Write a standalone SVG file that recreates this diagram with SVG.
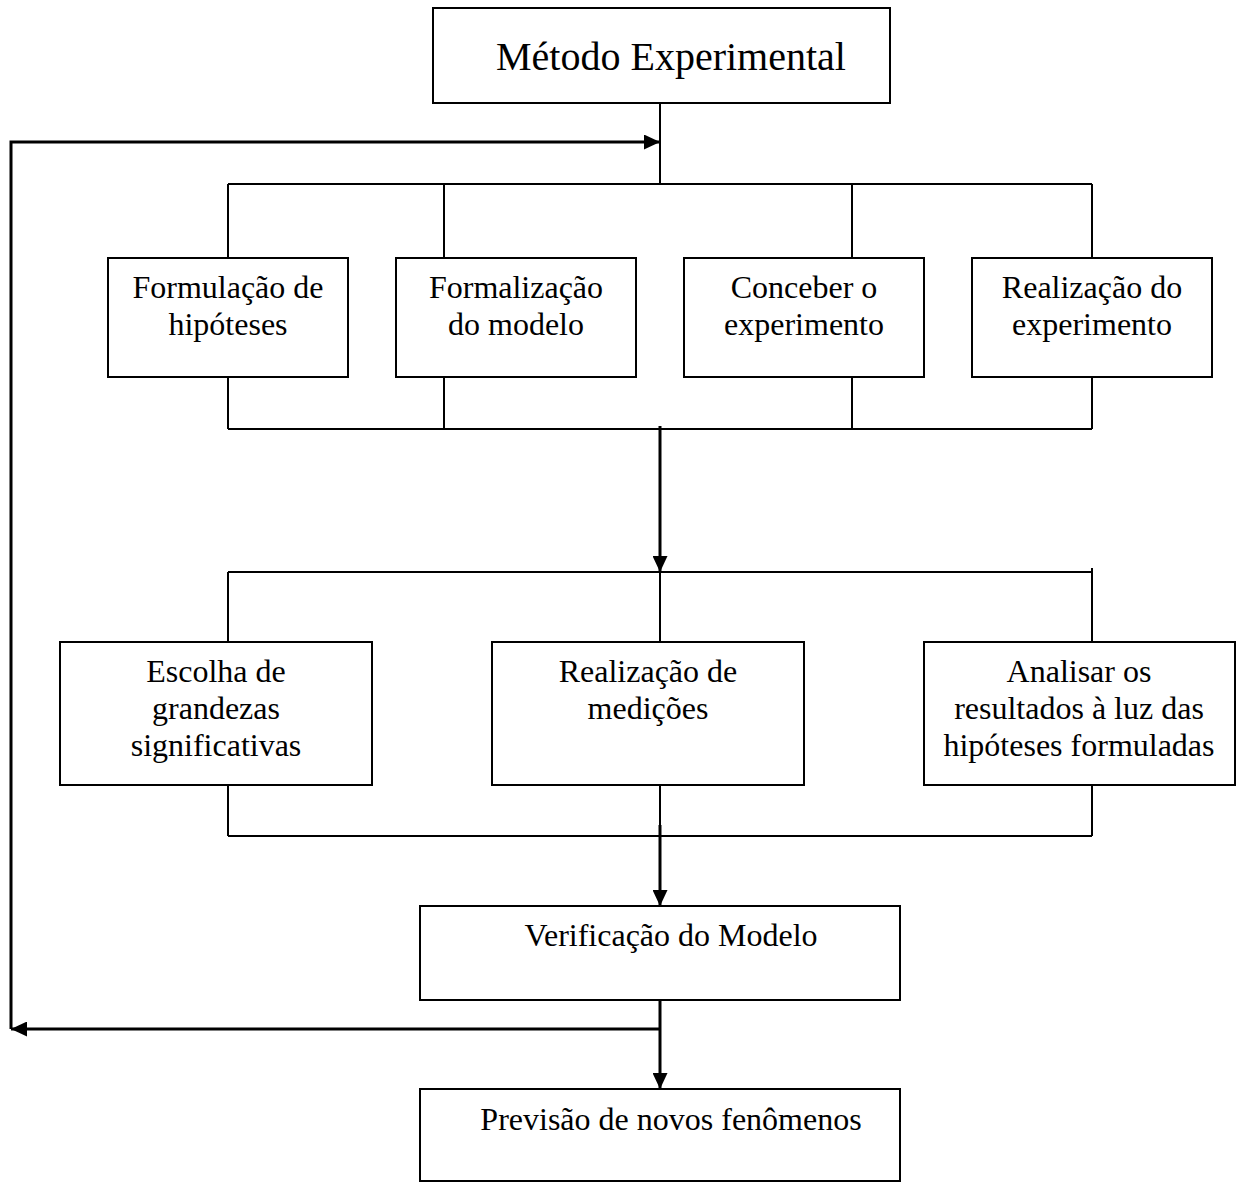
<svg xmlns="http://www.w3.org/2000/svg" width="1238" height="1184" viewBox="0 0 1238 1184">
  <style>
    .box { fill: #ffffff; stroke: #000000; stroke-width: 2; }
    .lbl { font-family: "Liberation Serif", "Times New Roman", serif; font-size: 32px; fill: #000000; text-anchor: middle; }
    .ttl { font-family: "Liberation Serif", "Times New Roman", serif; font-size: 40px; fill: #000000; text-anchor: middle; }
    .ln { fill: none; stroke: #000000; stroke-width: 2; }
    .flow { fill: none; stroke: #000000; stroke-width: 3; }
  </style>
  <defs>
    <marker id="arrow" viewBox="0 0 16 15" refX="16" refY="7.5" markerWidth="16" markerHeight="15" markerUnits="userSpaceOnUse" orient="auto">
      <path d="M0,0 L16,7.5 L0,15 z" fill="#000000"/>
    </marker>
  </defs>
  <rect width="1238" height="1184" fill="#ffffff"/>

  <!-- connectors -->
  <g id="connectors">
    <!-- title down to first branch bar -->
    <path class="ln" d="M660,103 V184"/>
    <path class="ln" d="M228,184 H1092"/>
    <path class="ln" d="M228,184 V258 M444,184 V258 M852,184 V258 M1092,184 V258"/>
    <!-- first join bar -->
    <path class="ln" d="M228,377 V429 M444,377 V429 M852,377 V429 M1092,377 V429"/>
    <path class="ln" d="M228,429 H1092"/>
    <path class="flow" d="M660,426 V572" marker-end="url(#arrow)"/>
    <!-- second branch bar -->
    <path class="ln" d="M228,572 H1092"/>
    <path class="ln" d="M228,572 V642 M660,572 V642 M1092,568 V642"/>
    <!-- second join bar -->
    <path class="ln" d="M228,785 V836 M1092,785 V836 M660,785 V826"/>
    <path class="ln" d="M228,836 H1092"/>
    <path class="flow" d="M660,825 V906" marker-end="url(#arrow)"/>
    <!-- verification to prediction, with feedback loop -->
    <path class="flow" d="M660,1000 V1089" marker-end="url(#arrow)"/>
    <path class="flow" d="M660,1029 H11" marker-end="url(#arrow)"/>
    <path class="flow" d="M11,1029 V142 H660" marker-end="url(#arrow)"/>
  </g>

  <g id="metodo">
    <rect class="box" x="433" y="8" width="457" height="95"/>
    <text class="ttl" x="671" y="70">Método Experimental</text>
  </g>

  <g id="formulacao">
    <rect class="box" x="108" y="258" width="240" height="119"/>
    <text class="lbl" x="228" y="298">Formulação de</text>
    <text class="lbl" x="228" y="335">hipóteses</text>
  </g>
  <g id="formalizacao">
    <rect class="box" x="396" y="258" width="240" height="119"/>
    <text class="lbl" x="516" y="298">Formalização</text>
    <text class="lbl" x="516" y="335">do modelo</text>
  </g>
  <g id="conceber">
    <rect class="box" x="684" y="258" width="240" height="119"/>
    <text class="lbl" x="804" y="298">Conceber o</text>
    <text class="lbl" x="804" y="335">experimento</text>
  </g>
  <g id="realizacao-exp">
    <rect class="box" x="972" y="258" width="240" height="119"/>
    <text class="lbl" x="1092" y="298">Realização do</text>
    <text class="lbl" x="1092" y="335">experimento</text>
  </g>

  <g id="escolha">
    <rect class="box" x="60" y="642" width="312" height="143"/>
    <text class="lbl" x="216" y="682">Escolha de</text>
    <text class="lbl" x="216" y="719">grandezas</text>
    <text class="lbl" x="216" y="756">significativas</text>
  </g>
  <g id="medicoes">
    <rect class="box" x="492" y="642" width="312" height="143"/>
    <text class="lbl" x="648" y="682">Realização de</text>
    <text class="lbl" x="648" y="719">medições</text>
  </g>
  <g id="analisar">
    <rect class="box" x="924" y="642" width="311" height="143"/>
    <text class="lbl" x="1079" y="682">Analisar os</text>
    <text class="lbl" x="1079" y="719">resultados à luz das</text>
    <text class="lbl" x="1079" y="756">hipóteses formuladas</text>
  </g>

  <g id="verificacao">
    <rect class="box" x="420" y="906" width="480" height="94"/>
    <text class="lbl" x="671" y="946">Verificação do Modelo</text>
  </g>

  <g id="previsao">
    <rect class="box" x="420" y="1089" width="480" height="92"/>
    <text class="lbl" x="671" y="1130">Previsão de novos fenômenos</text>
  </g>
</svg>
